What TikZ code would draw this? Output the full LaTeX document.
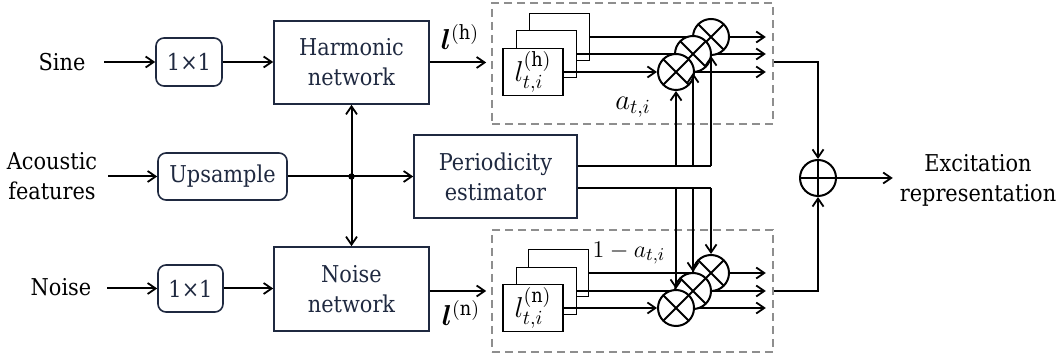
\documentclass[tikz,border=0pt]{standalone}
\usepackage{amsmath}
\usepackage{bm}
\usepackage{fontspec}
\setmainfont{DejaVu Serif Condensed}
\usetikzlibrary{arrows.meta,calc}

\definecolor{navy}{HTML}{1F2940}
\definecolor{dashgray}{HTML}{8E8E8E}

\pgfdeclarelayer{fg}
\pgfsetlayers{main,fg}

\tikzset{
  wire/.style={line width=1pt, draw=black},
  arr/.style={wire, -{Straight Barb[length=4pt,width=5.5pt,line width=0.9pt]}},
  box/.style={draw=navy, line width=0.8pt, text=navy, align=center, inner sep=0pt},
  rbox/.style={box, rounded corners=4pt},
  lay/.style={draw=black, fill=white, line width=0.9pt, minimum width=30pt,
    minimum height=23.5pt, inner sep=0pt},
  grp/.style={draw=dashgray, dash pattern=on 4pt off 2.5pt, line width=0.8pt,
    minimum width=140.5pt, inner sep=0pt},
  mlab/.style={font=\fontsize{14}{16}\selectfont, inner sep=0pt},
  mul/.style={circle, draw=black, fill=white, line width=1pt, minimum size=18pt,
    inner sep=0pt, path picture={
      \draw[line width=1pt]
        (path picture bounding box.south west) -- (path picture bounding box.north east)
        (path picture bounding box.north west) -- (path picture bounding box.south east);}},
  add/.style={circle, draw=black, fill=white, line width=1pt, minimum size=18pt,
    inner sep=0pt, path picture={
      \draw[line width=1pt]
        (path picture bounding box.north) -- (path picture bounding box.south)
        (path picture bounding box.west) -- (path picture bounding box.east);}},
}

\begin{document}
\begin{tikzpicture}[x=0.5pt, y=-0.5pt, font=\fontsize{11.6}{15}\selectfont]
\useasboundingbox (0,0) rectangle (1058,356);

% inputs
\node (sine) at (62,62) {Sine};
\node[align=center] (acou) at (52,176) {Acoustic\\features};
\node (noi) at (61,287) {Noise};
\coordinate (sinein) at (104,62);
\coordinate (acin) at (108,176.5);
\coordinate (noin) at (107,288.5);

% front-end blocks
\node[rbox, minimum width=33pt, minimum height=24pt] (ch) at (189,62) {1×1};
\node[rbox, minimum width=64.5pt, minimum height=23.5pt] (ups) at (222.5,176.5) {Upsample};
\node[rbox, minimum width=32.5pt, minimum height=23.5pt] (cn) at (190.5,288.5) {1×1};
\node[box, minimum width=77.5pt, minimum height=41.5pt] (harm) at (351.5,62.5) {Harmonic\\network};
\node[box, minimum width=77.5pt, minimum height=42pt] (nnet) at (351.5,289) {Noise\\network};
\node[box, minimum width=81.5pt, minimum height=41.5pt] (per) at (495.5,176.5) {Periodicity\\estimator};

\draw[arr] (sinein) -- (ch.west);
\draw[arr] (acin) -- (ups.west);
\draw[arr] (noin) -- (cn.west);
\draw[arr] (ch.east) -- (ch.east -| harm.west);
\draw[arr] (cn.east) -- (cn.east -| nnet.west);
\draw[arr] (ups.east) -- (per.west);
\coordinate (split) at (harm.south |- ups.east);
\fill (split) circle (1.6pt);
\draw[arr] (split) -- (harm.south);
\draw[arr] (split) -- (nnet.north);

% dashed groups
\node[grp, minimum height=60.5pt] (hgrp) at (632.5,63.5) {};
\node[grp, minimum height=61pt] (ngrp) at (632.5,291) {};

\draw[arr] (harm.east) -- ([xshift=-2.5pt]harm.east -| hgrp.west);
\draw[arr] ([yshift=-1pt]nnet.east) -- ([xshift=-2.5pt,yshift=-1pt]nnet.east -| ngrp.west);
\node[mlab] (lh) at (460,37) {$\bm{l}^{(\mathrm{h})}$};
\node[mlab] (ln) at (461,313) {$\bm{l}^{(\mathrm{n})}$};

% harmonic branch: stacked maps and multipliers
\node[lay] (hb3) at (559.5,37) {};
\node[lay] (hb2) at (546.5,54) {};
\node[lay, mlab] (hb1) at (533,72) {$l^{(\mathrm{h})}_{t,i}$};
\begin{pgfonlayer}{fg}
  \node[mul] (hm3) at (711,37) {};
  \node[mul] (hm2) at (693,54) {};
  \node[mul] (hm1) at (676,72) {};
\end{pgfonlayer}
\draw[wire] (hb3.east) -- (hm3.west);
\draw[wire] (hb2.east) -- (hm2.west);
\draw[arr] (hb1.east) -- (hm1.west);
\draw[arr] (hm3.east) -- ([xshift=-4pt]hm3.east -| hgrp.east);
\draw[arr] (hm2.east) -- ([xshift=-4pt]hm2.east -| hgrp.east);
\draw[arr] (hm1.east) -- ([xshift=-4pt]hm1.east -| hgrp.east);
\node[mlab] (alab) at (633,107) {$a_{t,i}$};

% noise branch: stacked maps and multipliers
\node[lay] (nb3) at (558.5,273) {};
\node[lay] (nb2) at (546.5,291) {};
\node[lay, mlab] (nb1) at (533,308) {$l^{(\mathrm{n})}_{t,i}$};
\begin{pgfonlayer}{fg}
  \node[mul] (nm3) at (711,273) {};
  \node[mul] (nm2) at (693,291) {};
  \node[mul] (nm1) at (676,308) {};
\end{pgfonlayer}
\draw[wire] (nb3.east) -- (nm3.west);
\draw[wire] (nb2.east) -- (nm2.west);
\draw[arr] (nb1.east) -- (nm1.west);
\draw[arr] (nm3.east) -- ([xshift=-4pt]nm3.east -| ngrp.east);
\draw[arr] (nm2.east) -- ([xshift=-4pt]nm2.east -| ngrp.east);
\draw[arr] (nm1.east) -- ([xshift=-4pt]nm1.east -| ngrp.east);
\node[mlab, font=\fontsize{13}{15}\selectfont] (blab) at (629,253) {$1-a_{t,i}$};

% periodicity weights to the multipliers
\coordinate (pu) at ([yshift=5.25pt]per.east);
\coordinate (pl) at ([yshift=-5.75pt]per.east);
\draw[wire] (pu) -- (pu -| hm3.south);
\draw[wire] (pl) -- (pl -| nm3.north);
\begin{pgfonlayer}{fg}
  \draw[arr] (hm1.south |- pu) -- (hm1.south);
  \draw[arr] (hm2.south |- pu) -- (hm2.south);
  \draw[arr] (hm3.south |- pu) -- (hm3.south);
  \draw[arr] (nm1.north |- pl) -- (nm1.north);
  \draw[arr] (nm2.north |- pl) -- (nm2.north);
  \draw[arr] (nm3.north |- pl) -- (nm3.north);
\end{pgfonlayer}

% summation and output
\node[add] (sum) at (818,178) {};
\node[align=center] (exc) at (978,180) {Excitation\\representation};
\draw[arr] ([yshift=0.75pt]hgrp.east) -| (sum.north);
\draw[arr] (ngrp.east) -| (sum.south);
\draw[arr] (sum.east) -- (sum.east -| exc.west);
\end{tikzpicture}
\end{document}
